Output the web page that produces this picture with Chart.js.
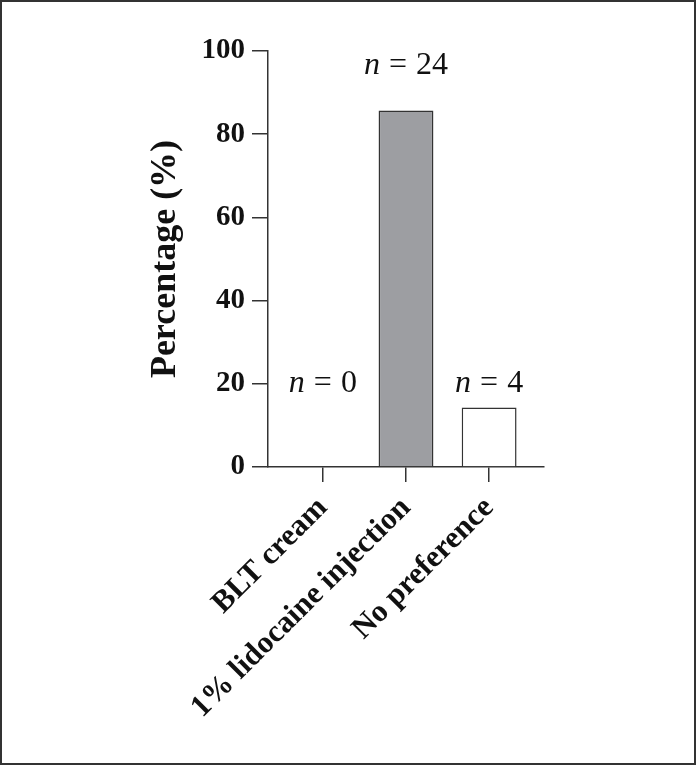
<!DOCTYPE html>
<html>
<head>
<meta charset="utf-8">
<script src="https://cdn.jsdelivr.net/npm/chart.js@4.4.1/dist/chart.umd.min.js"></script>
<style>
  html, body { margin: 0; padding: 0; background: #fff; }
  #frame { width: 696px; height: 765px; box-sizing: border-box; border: 2px solid #333; position: relative; }
  #c { display: block; }
</style>
</head>
<body>
<div id="frame"><canvas id="c" width="692" height="761"></canvas></div>
<script>
// ---- data ----
const categories = ['BLT cream', '1% lidocaine injection', 'No preference'];
const counts = [0, 24, 4];
const percentages = [0, 85.7, 14.3];
const yTicks = [0, 20, 40, 60, 80, 100];

const serif = '"Liberation Serif", "Times New Roman", serif';

const nLabels = {
  id: 'nLabels',
  afterDatasetsDraw(chart, args, opts) {
    const ctx = chart.ctx;
    const xs = chart.scales.x, ys = chart.scales.y;
    ctx.save();
    ctx.fillStyle = '#111';
    ctx.textBaseline = 'alphabetic';
    ctx.textAlign = 'left';
    const italic = 'italic 32px ' + serif;
    const normal = '32px ' + serif;
    const gap = 9;
    counts.forEach((n, i) => {
      const cx = xs.getPixelForValue(i);
      const by = ys.getPixelForValue(opts.levels[i]);
      ctx.font = italic;
      const w1 = ctx.measureText('n').width;
      ctx.font = normal;
      const w2 = ctx.measureText('=').width;
      const w3 = ctx.measureText(String(n)).width;
      const total = w1 + gap + w2 + gap + w3;
      let x = cx - total / 2;
      ctx.font = italic;
      ctx.fillText('n', x, by);
      x += w1 + gap;
      ctx.font = normal;
      ctx.fillText('=', x, by);
      x += w2 + gap;
      ctx.fillText(String(n), x, by);
    });
    ctx.restore();
  }
};

new Chart(document.getElementById('c'), {
  type: 'bar',
  data: {
    datasets: [{
      data: percentages.map((v, i) => ({ x: i, y: v })),
      backgroundColor: ['#ffffff', '#9d9ea2', '#ffffff'],
      borderColor: '#333333',
      borderWidth: 1.5,
      borderSkipped: 'bottom',
      barPercentage: 0.66,
      categoryPercentage: 1.0
    }]
  },
  options: {
    responsive: false,
    animation: false,
    layout: { padding: { left: 0, top: 49, right: 150, bottom: 0 } },
    plugins: {
      legend: { display: false },
      tooltip: { enabled: false },
      nLabels: { levels: [18.0, 94.5, 18.0] }
    },
    scales: {
      x: {
        type: 'linear',
        offset: false,
        min: -0.66,
        max: 2.66,
        afterBuildTicks: (s) => { s.ticks = categories.map((_, i) => ({ value: i })); },
        afterFit: (s) => { s.height = 296; },
        border: { display: true, color: '#333', width: 1.5 },
        grid: { offset: false, drawOnChartArea: false, drawTicks: true, tickLength: 15, color: '#333', lineWidth: 1.5 },
        ticks: {
          autoSkip: false,
          minRotation: 45,
          maxRotation: 45,
          padding: 8,
          color: '#111',
          font: { family: serif, size: 31, weight: 'bold' },
          callback: (v) => categories[v]
        }
      },
      y: {
        min: 0,
        max: 100,
        afterBuildTicks: (s) => { s.ticks = yTicks.map(v => ({ value: v })); },
        afterFit: (s) => { s.width = 266; },
        border: { display: true, color: '#333', width: 1.5 },
        grid: { drawOnChartArea: false, drawTicks: true, tickLength: 16, color: '#333', lineWidth: 1.5 },
        ticks: {
          padding: 7,
          color: '#111',
          font: { family: serif, size: 29, weight: 'bold' }
        },
        title: {
          display: true,
          text: 'Percentage (%)',
          color: '#111',
          padding: { top: 142, bottom: 0 },
          font: { family: serif, size: 36, weight: 'bold' }
        }
      }
    }
  },
  plugins: [nLabels]
});
</script>
</body>
</html>
